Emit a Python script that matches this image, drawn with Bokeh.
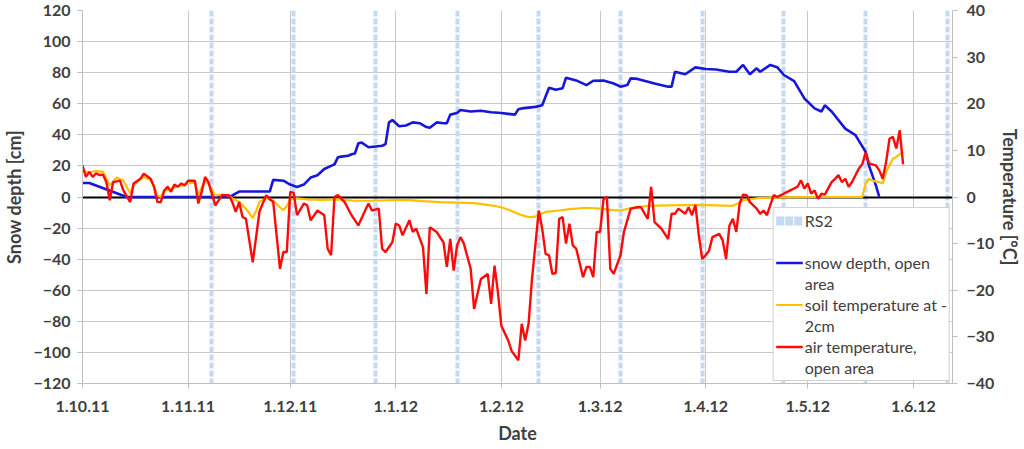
import pandas as pd
from bokeh.plotting import figure
from bokeh.models import (Range1d, LinearAxis, FixedTicker, DatetimeTickFormatter,
                          Legend, LegendItem)
from bokeh.embed import file_html
from bokeh.resources import INLINE

# ---------------- data ----------------
START = "2011-10-01"          # day 0 of the day offsets below

snow_day = [0, 2, 13, 43, 44, 46, 55, 56, 59, 61, 63, 65, 67, 69, 71, 73, 74, 75, 76, 78,
            79, 80, 81, 82, 84, 86, 88, 89, 90, 91, 93, 95, 97, 99, 101, 102, 104, 106, 107,
            108, 110, 111, 114, 117, 120, 123, 125, 127, 128, 129, 133, 135, 137, 139, 141,
            142, 145, 148, 150, 153, 156, 158, 160, 161, 163, 168, 172, 173, 174, 177, 180,
            183, 186, 190, 192, 194, 196, 198, 199, 202, 204, 206, 209, 212, 215, 217, 218,
            220, 224, 227, 230, 231, 233, 234]
snow_cm = [9, 9, 0, 0, 1, 3.5, 3.5, 11, 10.5, 8, 6.5, 8, 12.5, 14, 18, 20, 21, 25.5, 26, 26.5,
           27.5, 28, 34.5, 35, 32, 32.5, 33, 34, 48, 49.5, 45.5, 46, 48, 47.5, 45, 44.5, 48, 47.5, 47.5,
           53, 54, 56, 55, 55.5, 54.5, 54, 53.5, 53, 56.5, 57, 58, 59, 70.3, 69, 70,
           76.8, 75, 72, 74.8, 75, 73, 71, 72, 76.3, 76, 73, 71, 71, 80.6, 79, 83.4,
           82.4, 82, 80.6, 80.6, 85, 79, 82.8, 80.6, 85, 83.5, 78.5, 74.6, 63.4, 57, 55, 59,
           55, 44, 39.8, 29, 20, 7.5, 0]

soil_day = [0, 2, 4, 6, 8, 10, 12, 14, 15, 17, 18, 20, 21, 22, 23, 24, 26, 28, 30, 31, 33, 34,
            36, 37, 39, 41, 43, 44, 46, 48, 50, 51, 52, 54, 56, 58, 59, 60, 61, 63, 66, 70, 75,
            80, 85, 90, 95, 100, 105, 110, 115, 120, 123, 126, 129, 131, 133, 134, 136, 140,
            143, 148, 152, 156, 158, 161, 166, 172, 181, 186, 191, 193, 194, 196, 199, 205,
            215, 229, 230, 231, 232, 234, 235, 236, 238, 239, 241]
soil_t = [5.5, 5.3, 5.6, 5.4, 2.5, 4.2, 3.5, 0.8, 2.5, 3.8, 4.3, 3.6, 2.4, 0.3, 0.0, 1.3, 1.8,
          2.3, 2.6, 3.0, 3.0, 0.5, 3.5, 2.8, 0.3, 0.6, 0.3, -0.3, -1.0, -2.5, -4.5, -3.0, -1.0,
          -0.3, -0.8, -2.2, -2.8, -2.0, -0.5, -0.3, -0.5, -0.6, -0.5, -0.8, -0.8, -0.7, -0.6,
          -0.9, -1.1, -1.2, -1.3, -1.8, -2.2, -3.0, -3.9, -4.3, -4.2, -3.8, -3.2, -2.9, -2.6,
          -2.3, -2.5, -2.8, -2.9, -2.4, -1.9, -1.8, -1.7, -1.8, -1.9, -1.2, -0.7, -0.5, -0.2,
          -0.1, 0.0, 0.0, 2.9, 3.9, 3.5, 3.2, 2.9, 5.4, 8.2, 8.6, 9.7]

air_day = [0, 1, 2, 3, 4, 5, 6, 7, 8, 9, 11, 12, 14, 15, 17, 18, 20, 21, 22, 23, 24, 25, 26,
           27, 28, 29, 30, 31, 33, 34, 35, 36, 37, 39, 41, 43, 44, 45, 46, 47, 48, 50, 52, 54,
           55, 56, 58, 59, 60, 61, 62, 63, 65, 66, 67, 69, 71, 72, 73, 74, 75, 77, 79, 81, 83,
           84, 85, 87, 88, 89, 91, 92, 93, 94, 96, 97, 98, 100, 101, 102, 104, 106, 107, 108,
           109, 110, 111, 112, 114, 115, 117, 119, 120, 121, 122, 123, 125, 126, 127, 128, 129,
           130, 131, 132, 134, 135, 136, 137, 138, 139, 140, 141, 142, 143, 144, 145, 147, 148,
           149, 150, 151, 152, 153, 154, 155, 156, 158, 159, 161, 163, 164, 166, 167, 168, 170,
           172, 173, 174, 175, 177, 178, 179, 180, 181, 182, 183, 184, 185, 187, 188, 189, 190,
           191, 192, 193, 194, 195, 196, 198, 199, 200, 201, 203, 204, 207, 210, 211, 212, 213,
           214, 215, 216, 217, 218, 220, 221, 222, 223, 224, 225, 226, 228, 229, 230, 231, 233,
           234, 235, 236, 237, 238, 239, 240, 241]
air_t = [6.8, 4.3, 5.4, 4.3, 5.1, 4.7, 4.8, 3.2, -0.7, 3.2, 3.5, 1.4, -1.1, 2.9, 3.9, 5.0, 3.9,
         2.2, -1.1, -1.1, 1.4, 2.2, 1.1, 2.7, 2.2, 2.9, 2.5, 3.5, 3.5, -1.4, 1.1, 4.3, 3.2, -1.8,
         0.4, 0.4, -1.1, -3.2, -1.1, -4.3, -4.7, -14.0, -3.0, 0.4, -0.5, -1.0, -15.4, -11.8,
         -11.8, 1.1, 0.9, -3.9, -1.4, -1.8, -5.0, -2.9, -3.9, -11.1, -12.5, 0.0, 0.4, -1.1, -3.9,
         -6.1, -2.9, -1.4, -2.9, -2.5, -11.1, -11.8, -9.7, -5.7, -6.1, -8.2, -5.0, -7.5, -6.8,
         -10.8, -20.8, -6.5, -7.5, -9.7, -15.0, -9.0, -15.8, -10.4, -8.6, -10.0, -15.4, -24.0,
         -17.6, -16.5, -22.9, -14.7, -20.4, -27.6, -30.7, -33.0, -34.0, -35.0, -27.2, -30.8,
         -27.2, -17.6, -2.9, -6.8, -12.2, -12.5, -16.5, -16.3, -4.7, -4.3, -10.0, -5.7, -10.4,
         -11.1, -17.2, -15.0, -15.0, -17.2, -7.5, -7.5, -0.5, 0.0, -15.4, -16.5, -12.5, -7.5,
         -2.5, -2.2, -2.2, -4.7, 2.2, -5.4, -6.8, -9.0, -3.6, -3.6, -2.5, -3.6, -2.2, -3.9,
         -1.7, -8.2, -13.3, -12.5, -11.5, -8.6, -7.9, -9.3, -13.3, -6.1, -4.7, -7.5, -1.4, 0.5,
         0.4, -1.1, -2.5, -3.6, -2.9, -3.9, 0.4, 0.0, 1.1, 2.2, 3.6, 1.8, 2.9, 0.7, 1.4, -0.4,
         0.7, 0.5, 3.2, 3.9, 4.7, 3.2, 3.9, 2.2, 3.2, 6.1, 7.0, 9.5, 7.2, 6.8, 5.7, 3.9, 7.5,
         12.5, 12.9, 10.4, 14.3, 7.0]

rs2_dates = ["2011-11-08", "2011-12-02", "2011-12-26", "2012-01-19", "2012-02-12",
             "2012-03-07", "2012-03-31", "2012-04-24", "2012-05-18", "2012-06-11"]

month_ticks = ["2011-10-01", "2011-11-01", "2011-12-01", "2012-01-01", "2012-02-01",
               "2012-03-01", "2012-04-01", "2012-05-01", "2012-06-01"]
snow_ticks = [-120, -100, -80, -60, -40, -20, 0, 20, 40, 60, 80, 100, 120]
temp_ticks = [-40, -30, -20, -10, 0, 10, 20, 30, 40]
baseline = [0]

# ---------------- helpers ----------------
t0 = pd.Timestamp(START)


def to_dates(days):
    return pd.DatetimeIndex([t0 + pd.Timedelta(days=d) for d in days])


def ms(d):
    return pd.Timestamp(d).value // 10**6


TXT = "#404040"
GRID = "#C9C9C9"
FONT = "Lato"

p = figure(width=1024, height=449, x_axis_type="datetime",
           x_range=Range1d(t0, t0 + pd.Timedelta(days=255.5)),
           y_range=Range1d(snow_ticks[0], snow_ticks[-1]),
           output_backend="svg", toolbar_location=None,
           min_border_left=80, min_border_right=69, min_border_top=10, min_border_bottom=66)
p.extra_y_ranges = {"temp": Range1d(temp_ticks[0], temp_ticks[-1])}
p.outline_line_color = None
p.background_fill_color = "white"

# axes
p.xaxis.ticker = FixedTicker(ticks=[ms(d) for d in month_ticks])
fmt = "%-d.%-m.%y"
p.xaxis.formatter = DatetimeTickFormatter(milliseconds=fmt, seconds=fmt, minsec=fmt, minutes=fmt,
                                          hourmin=fmt, hours=fmt, days=fmt, months=fmt, years=fmt)
p.xaxis.axis_label = "Date"
p.yaxis.ticker = FixedTicker(ticks=snow_ticks)
p.yaxis.axis_label = "Snow depth [cm]"

raxis = LinearAxis(y_range_name="temp", ticker=FixedTicker(ticks=temp_ticks),
                   axis_label="Temperature [°C]")
p.add_layout(raxis, "right")
try:
    raxis.axis_label_orientation = "vertical"
except Exception:
    pass

for ax in [p.xaxis[0], p.yaxis[0], raxis]:
    ax.major_label_text_font = FONT
    ax.major_label_text_font_style = "bold"
    ax.major_label_text_font_size = "16px"
    ax.major_label_text_color = TXT
    ax.axis_label_text_font = FONT
    ax.axis_label_text_font_style = "bold"
    ax.axis_label_text_font_size = "18px"
    ax.axis_label_text_color = TXT
    ax.axis_line_color = "#BFBFBF"
    ax.major_tick_line_color = "#BFBFBF"
    ax.major_tick_out = 5
    ax.major_tick_in = 0
    ax.minor_tick_out = 0
    ax.minor_tick_in = 0

p.xaxis.major_label_standoff = 12
p.xaxis.axis_label_standoff = 7
p.yaxis.major_label_standoff = 7
p.yaxis.axis_label_standoff = 5
raxis.major_label_standoff = 9
raxis.axis_label_standoff = 2

p.xgrid.grid_line_color = GRID
p.ygrid.grid_line_color = GRID
p.xgrid.grid_line_width = 1
p.ygrid.grid_line_width = 1

# RS2 acquisition lines
rs2_color = "#C5D9F1"
p.vspan(x=pd.to_datetime(rs2_dates), line_color=rs2_color, line_width=4, line_dash="6 2")

# zero line
p.hspan(y=baseline, line_color="black", line_width=2)

# series
r_snow = p.line(to_dates(snow_day), snow_cm, line_color="#1616DC", line_width=2.6)
r_soil = p.line(to_dates(soil_day), soil_t, line_color="#FFC000", line_width=2.2, y_range_name="temp")
r_air = p.line(to_dates(air_day), air_t, line_color="#FF0A0A", line_width=2.4, y_range_name="temp")

# legend-only renderers (no visible data)
nan = float("nan")
r_rs2_leg = p.line(x=[t0, t0], y=[nan, nan], line_color=rs2_color, line_width=9, line_dash="8 1")
r_blank = p.line(x=[t0, t0], y=[nan, nan], line_alpha=0)

legend = Legend(items=[
    LegendItem(label="RS2", renderers=[r_rs2_leg]),
    LegendItem(label=" ", renderers=[r_blank]),
    LegendItem(label="snow depth, open", renderers=[r_snow]),
    LegendItem(label="area", renderers=[r_blank]),
    LegendItem(label="soil temperature at -", renderers=[r_soil]),
    LegendItem(label="2cm", renderers=[r_blank]),
    LegendItem(label="air temperature,", renderers=[r_air]),
    LegendItem(label="open area", renderers=[r_blank]),
])
legend.location = "bottom_right"
legend.margin = 2
legend.padding = 2
legend.spacing = 0
legend.label_height = 21
legend.glyph_height = 21
legend.glyph_width = 27
legend.label_standoff = 2
legend.label_text_font = FONT
legend.label_text_font_size = "16px"
legend.label_text_color = TXT
legend.border_line_color = "#A6A6A6"
legend.border_line_width = 1
legend.background_fill_color = "white"
legend.background_fill_alpha = 1.0
p.add_layout(legend)

open("out.html", "w").write(file_html(p, INLINE))
